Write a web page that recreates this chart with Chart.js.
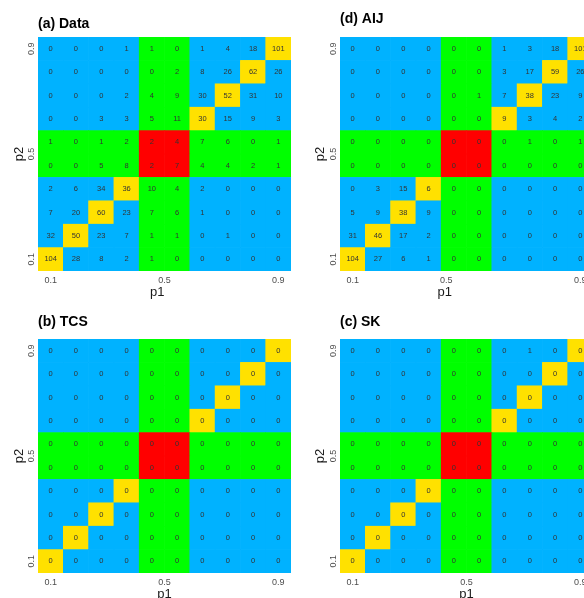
<!DOCTYPE html>
<html>
<head>
<meta charset="utf-8">
<script src="https://cdn.jsdelivr.net/npm/chart.js@4.4.1/dist/chart.umd.min.js"></script>
<style>
  html, body { margin: 0; padding: 0; background: #fff; overflow: hidden; }
  body { width: 584px; height: 598px; position: relative; }
  .panel { position: absolute; width: 300px; height: 300px; }
</style>
</head>
<body>
<div class="panel" style="left:0;top:0"><canvas id="dataChart"></canvas></div>
<div class="panel" style="left:300px;top:0"><canvas id="aijChart"></canvas></div>
<div class="panel" style="left:0;top:302px"><canvas id="tcsChart"></canvas></div>
<div class="panel" style="left:300px;top:302px"><canvas id="skChart"></canvas></div>
<script>
// counts per cell, rows from p2 = 0.9 (top) down to p2 = 0.1 (bottom), columns p1 = 0.1 .. 0.9
const dataCounts = [
    [0, 0, 0, 1, 1, 0, 1, 4, 18, 101],
    [0, 0, 0, 0, 0, 2, 8, 26, 62, 26],
    [0, 0, 0, 2, 4, 9, 30, 52, 31, 10],
    [0, 0, 3, 3, 5, 11, 30, 15, 9, 3],
    [1, 0, 1, 2, 2, 4, 7, 6, 0, 1],
    [0, 0, 5, 8, 2, 7, 4, 4, 2, 1],
    [2, 6, 34, 36, 10, 4, 2, 0, 0, 0],
    [7, 20, 60, 23, 7, 6, 1, 0, 0, 0],
    [32, 50, 23, 7, 1, 1, 0, 1, 0, 0],
    [104, 28, 8, 2, 1, 0, 0, 0, 0, 0]
];

const aijCounts = [
    [0, 0, 0, 0, 0, 0, 1, 3, 18, 101],
    [0, 0, 0, 0, 0, 0, 3, 17, 59, 26],
    [0, 0, 0, 0, 0, 1, 7, 38, 23, 9],
    [0, 0, 0, 0, 0, 0, 9, 3, 4, 2],
    [0, 0, 0, 0, 0, 0, 0, 1, 0, 1],
    [0, 0, 0, 0, 0, 0, 0, 0, 0, 0],
    [0, 3, 15, 6, 0, 0, 0, 0, 0, 0],
    [5, 9, 38, 9, 0, 0, 0, 0, 0, 0],
    [31, 46, 17, 2, 0, 0, 0, 0, 0, 0],
    [104, 27, 6, 1, 0, 0, 0, 0, 0, 0]
];

const tcsCounts = [
    [0, 0, 0, 0, 0, 0, 0, 0, 0, 0],
    [0, 0, 0, 0, 0, 0, 0, 0, 0, 0],
    [0, 0, 0, 0, 0, 0, 0, 0, 0, 0],
    [0, 0, 0, 0, 0, 0, 0, 0, 0, 0],
    [0, 0, 0, 0, 0, 0, 0, 0, 0, 0],
    [0, 0, 0, 0, 0, 0, 0, 0, 0, 0],
    [0, 0, 0, 0, 0, 0, 0, 0, 0, 0],
    [0, 0, 0, 0, 0, 0, 0, 0, 0, 0],
    [0, 0, 0, 0, 0, 0, 0, 0, 0, 0],
    [0, 0, 0, 0, 0, 0, 0, 0, 0, 0]
];

const skCounts = [
    [0, 0, 0, 0, 0, 0, 0, 1, 0, 0],
    [0, 0, 0, 0, 0, 0, 0, 0, 0, 0],
    [0, 0, 0, 0, 0, 0, 0, 0, 0, 0],
    [0, 0, 0, 0, 0, 0, 0, 0, 0, 0],
    [0, 0, 0, 0, 0, 0, 0, 0, 0, 0],
    [0, 0, 0, 0, 0, 0, 0, 0, 0, 0],
    [0, 0, 0, 0, 0, 0, 0, 0, 0, 0],
    [0, 0, 0, 0, 0, 0, 0, 0, 0, 0],
    [0, 0, 0, 0, 0, 0, 0, 0, 0, 0],
    [0, 0, 0, 0, 0, 0, 0, 0, 0, 0]
];

const tickLabels = ['0.1', '0.5', '0.9'];
const centreLevels = [4, 5];

const colors = {
    blue: '#00b2ff',
    green: '#00ff00',
    red: '#ff0000',
    yellow: '#ffe100'
};

Chart.defaults.font.family = '"Liberation Sans", Arial, sans-serif';
Chart.defaults.animation = false;

function cellColor(level1, level2) {
    const mid1 = centreLevels.includes(level1);
    const mid2 = centreLevels.includes(level2);
    if (mid1 && mid2) return colors.red;
    if (mid1 || mid2) return colors.green;
    if (level1 === level2) return colors.yellow;
    return colors.blue;
}

function toCells(counts) {
    let cells = [];
    counts.forEach(function (row, i) {
        const level2 = counts.length - 1 - i;
        row.forEach(function (n, level1) {
            cells.push({ x: level1 + 0.5, y: [level2, level2 + 1], n: n, l1: level1, l2: level2 });
        });
    });
    return cells;
}

// writes the count in the middle of every cell
const cellLabels = {
    id: 'cellLabels',
    afterDatasetsDraw(chart) {
        const ctx = chart.ctx;
        const cells = chart.data.datasets[0].data;
        ctx.save();
        ctx.font = '7.5px "Liberation Sans", Arial, sans-serif';
        ctx.fillStyle = '#333333';
        ctx.textAlign = 'center';
        ctx.textBaseline = 'middle';
        chart.getDatasetMeta(0).data.forEach(function (bar, i) {
            const c = bar.getCenterPoint();
            ctx.fillText(String(cells[i].n), c.x, c.y);
        });
        ctx.restore();
    }
};

function setupHeatmap(elementId, panel) {
    const ctx = document.getElementById(elementId).getContext('2d');
    return new Chart(ctx, {
        type: 'bar',
        data: {
            datasets: [{
                data: toCells(panel.counts),
                backgroundColor: c => cellColor(c.raw.l1, c.raw.l2),
                borderWidth: 0,
                barPercentage: 1,
                categoryPercentage: 1
            }]
        },
        options: {
            responsive: true,
            maintainAspectRatio: false,
            layout: { padding: { left: 0, right: panel.rightPad, top: 0, bottom: 0 } },
            plugins: {
                legend: { display: false },
                tooltip: { enabled: false },
                title: {
                    display: true,
                    text: panel.title,
                    align: 'start',
                    fullSize: false,
                    color: '#000000',
                    font: { size: 14, weight: 'bold' },
                    padding: panel.titlePad
                }
            },
            scales: {
                x: {
                    type: 'linear',
                    min: 0,
                    max: 10,
                    offset: false,
                    grid: { display: false, drawTicks: false, tickLength: 0 },
                    border: { display: false },
                    afterBuildTicks: s => { s.ticks = panel.xTicks.map(v => ({ value: v })); },
                    afterFit: s => { s.height = 29; },
                    ticks: {
                        callback: (v, i) => tickLabels[i],
                        color: '#4d4d4d',
                        font: { size: 9 },
                        padding: 4,
                        maxRotation: 0
                    },
                    title: {
                        display: true,
                        text: panel.xTitle,
                        color: '#1a1a1a',
                        font: { size: 13 },
                        padding: 0
                    }
                },
                y: {
                    type: 'linear',
                    min: 0,
                    max: 10,
                    grid: { display: false, drawTicks: false, tickLength: 0 },
                    border: { display: false },
                    afterBuildTicks: s => { s.ticks = [0.5, 5, 9.5].map(v => ({ value: v })); },
                    afterFit: s => { s.width = panel.yWidth; },
                    ticks: {
                        callback: (v, i) => tickLabels[i],
                        color: '#4d4d4d',
                        font: { size: 9 },
                        padding: 0,
                        minRotation: 90,
                        maxRotation: 90,
                        crossAlign: 'center'
                    },
                    title: {
                        display: true,
                        text: 'p2',
                        color: '#1a1a1a',
                        font: { size: 13 },
                        padding: { top: panel.yTitlePad, bottom: 0 }
                    }
                }
            }
        },
        plugins: [cellLabels]
    });
}

setupHeatmap('dataChart', {
    title: '(a) Data', counts: dataCounts, rightPad: 9, yWidth: 38, yTitlePad: 12,
    titlePad: { top: 15.6, bottom: 4.6 }, xTicks: [0.5, 5, 9.5], xTitle: 'p1    '
});
setupHeatmap('aijChart', {
    title: '(d) AIJ', counts: aijCounts, rightPad: 7, yWidth: 40, yTitlePad: 13,
    titlePad: { top: 11.1, bottom: 9.1 }, xTicks: [0.5, 4.2, 9.5], xTitle: 'p1            '
});
setupHeatmap('tcsChart', {
    title: '(b) TCS', counts: tcsCounts, rightPad: 9, yWidth: 38, yTitlePad: 12,
    titlePad: { top: 12.1, bottom: 8.1 }, xTicks: [0.5, 5, 9.5], xTitle: 'p1'
});
setupHeatmap('skChart', {
    title: '(c) SK', counts: skCounts, rightPad: 7, yWidth: 40, yTitlePad: 13,
    titlePad: { top: 12.1, bottom: 8.1 }, xTicks: [0.5, 5, 9.5], xTitle: 'p1'
});
</script>
</body>
</html>
